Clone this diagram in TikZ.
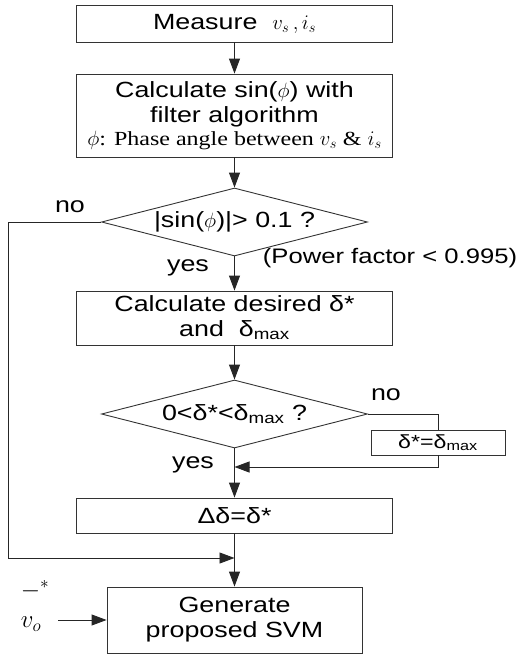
\documentclass[tikz,border=0pt]{standalone}
\usepackage{fontspec}
\setmainfont{Liberation Sans}[FakeStretch=1.22]
\newfontfamily\notefont{Liberation Serif}[FakeStretch=1.2]
\usetikzlibrary{arrows.meta,shapes.geometric,positioning,calc}

\tikzset{
  block/.style={draw=black!80, line width=0.9pt, minimum width=316pt, align=center, inner sep=2pt, font=\fontsize{22}{25}\selectfont},
  decide/.style={draw=black!80, line width=0.9pt, diamond, aspect=3.9, minimum width=266pt, minimum height=68pt, inner sep=-14pt, font=\fontsize{22}{25}\selectfont},
  flow/.style={line width=0.9pt, draw=black!85, -{Triangle[length=15pt,width=11pt]}},
  link/.style={line width=0.9pt, draw=black!85},
  note/.style={font=\fontsize{22}{24}\selectfont}
}

\begin{document}
\begin{tikzpicture}[x=1pt,y=-1pt]
  \useasboundingbox (0,0) rectangle (532,654);

  % Blocks
  \node[block, minimum height=37pt] (meas) at (234.5,23.5) {Measure \ $v_s\,, i_s$};
  \node[block, minimum height=83pt] (calc) at (234.5,115.5) {Calculate sin($\phi$) with\\ filter algorithm\\[-2pt] {\notefont\fontsize{20}{22}\selectfont $\phi$: Phase angle between $v_s$ \& $i_s$}};
  \node[decide] (chk) at (234.5,222) {\raisebox{5pt}{|sin($\phi$)|> 0.1 ?}};
  \node[block, minimum height=54pt] (des) at (234.5,318) {Calculate desired δ*\\ and \ δ\textsubscript{max}};
  \node[decide] (lim) at (234.5,414) {\raisebox{3pt}{0<δ*<δ\textsubscript{max} ?}};
  \node[block, minimum width=134pt, minimum height=25pt, font=\fontsize{19}{21}\selectfont] (sat) at (438,442.5) {δ*=δ\textsubscript{max}};
  \node[block, minimum height=35pt] (upd) at (234.5,515.5) {Δδ=δ*};
  \node[block, minimum width=255pt, minimum height=66pt] (svm) at (234.5,620) {Generate\\ proposed SVM};
  \node[font=\fontsize{26}{28}\selectfont, align=left, inner sep=1pt] (vref) at (35,606) {$-{}^{*}$\\[2pt]$v_o$};

  % Notes
  \node[note] (nolo) at (70,207) {no};
  \node[note] (nohi) at (386,395) {no};
  \node[note, font=\fontsize{21}{23}\selectfont] (pf) at (390,258) {(Power factor < 0.995)};

  % Main flow
  \draw[flow] (meas) -- (calc);
  \draw[flow] (calc) -- (chk);
  \draw[flow] (chk) -- (des);
  \draw[flow] (des) -- (lim);
  \draw[flow] (lim) -- (upd);
  \draw[flow] (upd) -- (svm);
  \node[note] (yeslo) at (188,268) {yes};
  \node[note] (yeshi) at (193,465) {yes};

  % Branches
  \coordinate (j1) at (234.5,467);
  \coordinate (j2) at (234.5,558);
  \draw[link] (lim.east) -| (sat.north);
  \draw[flow] (sat.south) |- (j1);
  \draw[flow] (chk.west) -- ++(-93,0) |- (j2);
  \draw[flow] (vref.east |- svm.west) ++(8,0) -- (svm.west);
\end{tikzpicture}
\end{document}
